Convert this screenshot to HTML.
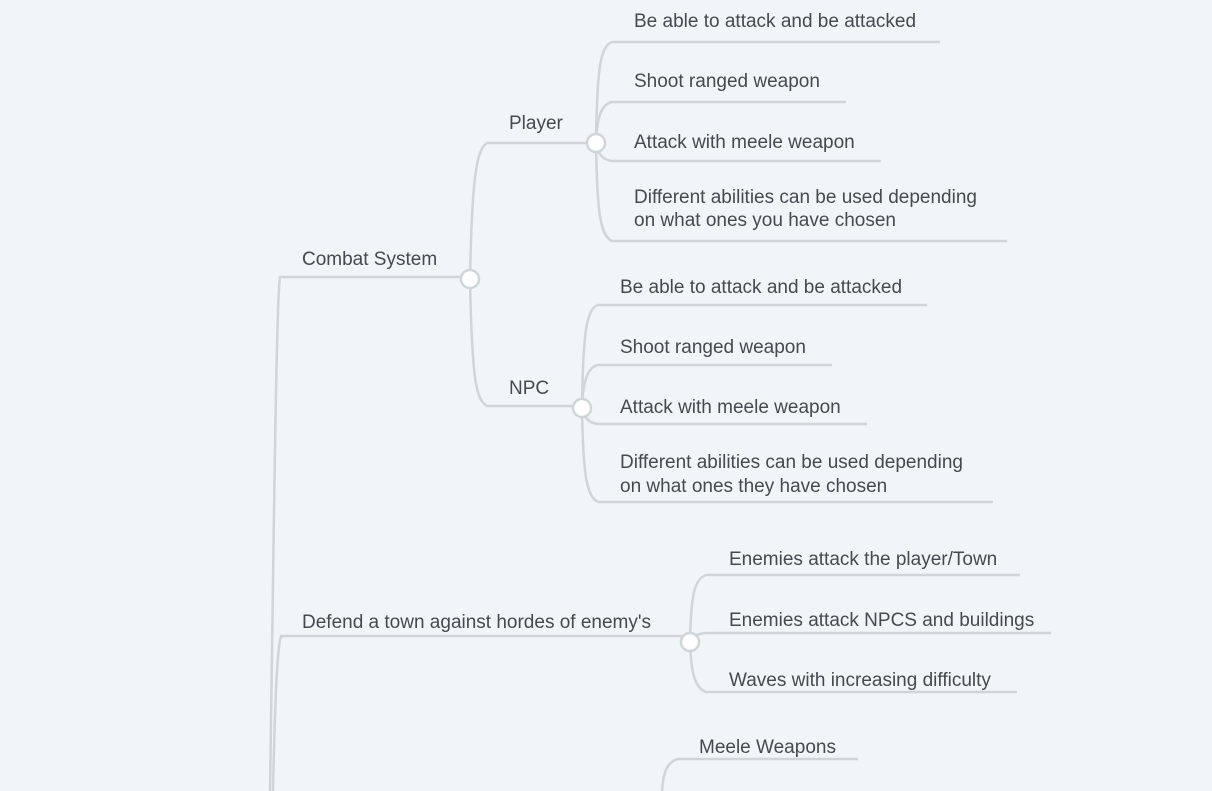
<!DOCTYPE html>
<html><head><style>
html,body{margin:0;padding:0;background:#f0f5f8;}
svg{display:block}
text{font-family:"Liberation Sans",sans-serif;font-size:19px;fill:#454a50;}
</style></head><body>
<svg width="1212" height="791" viewBox="0 0 1212 791">
<g fill="none" stroke="#d0d5d8" stroke-width="2.5">
<path d="M270,791 C273,600 276,300 280,277 L470,277"/>
<path d="M273,791 C275,700 277,650 281,636 L690,636"/>
<path d="M470,279 C472,180 476,150 487,143 L596,143"/>
<path d="M470,279 C472,380 476,400 487,406 L582,406"/>
<path d="M596,143 C597,70 600,46 612,42 L940,42"/>
<path d="M596,143 C597,115 602,104 612,102 L846,102"/>
<path d="M596,143 C597,152 602,160 612,161 L881,161"/>
<path d="M596,143 C597,210 600,236 612,241 L1007,241"/>
<path d="M582,408 C583,335 586,309 598,305 L927,305"/>
<path d="M582,408 C583,380 588,367 598,365 L832,365"/>
<path d="M582,408 C583,416 588,423 598,424 L867,424"/>
<path d="M582,408 C583,470 586,497 598,502 L993,502"/>
<path d="M690,642 C691,596 694,579 706,575 L1020,575"/>
<path d="M690,642 C691,637 696,634 706,633 L1051,633"/>
<path d="M690,642 C691,670 694,688 706,692 L1017,692"/>
<path d="M662,791 C663,775 666,762 678,759 L858,759"/>
</g>
<g fill="#fff" stroke="#d0d5d8" stroke-width="2.5">
<circle cx="470" cy="279" r="9"/>
<circle cx="596" cy="143" r="9"/>
<circle cx="582" cy="408" r="9"/>
<circle cx="690" cy="642" r="9"/>
</g>
<text x="302" y="265">Combat System</text>
<text x="509" y="129">Player</text>
<text x="509" y="394">NPC</text>
<text x="634" y="27">Be able to attack and be attacked</text>
<text x="634" y="87">Shoot ranged weapon</text>
<text x="634" y="148">Attack with meele weapon</text>
<text x="634" y="203">Different abilities can be used depending</text>
<text x="634" y="226">on what ones you have chosen</text>
<text x="620" y="293">Be able to attack and be attacked</text>
<text x="620" y="353">Shoot ranged weapon</text>
<text x="620" y="413">Attack with meele weapon</text>
<text x="620" y="468">Different abilities can be used depending</text>
<text x="620" y="492">on what ones they have chosen</text>
<text x="302" y="628">Defend a town against hordes of enemy's</text>
<text x="729" y="565">Enemies attack the player/Town</text>
<text x="729" y="626">Enemies attack NPCS and buildings</text>
<text x="729" y="686">Waves with increasing difficulty</text>
<text x="699" y="753">Meele Weapons</text>
</svg>
</body></html>
